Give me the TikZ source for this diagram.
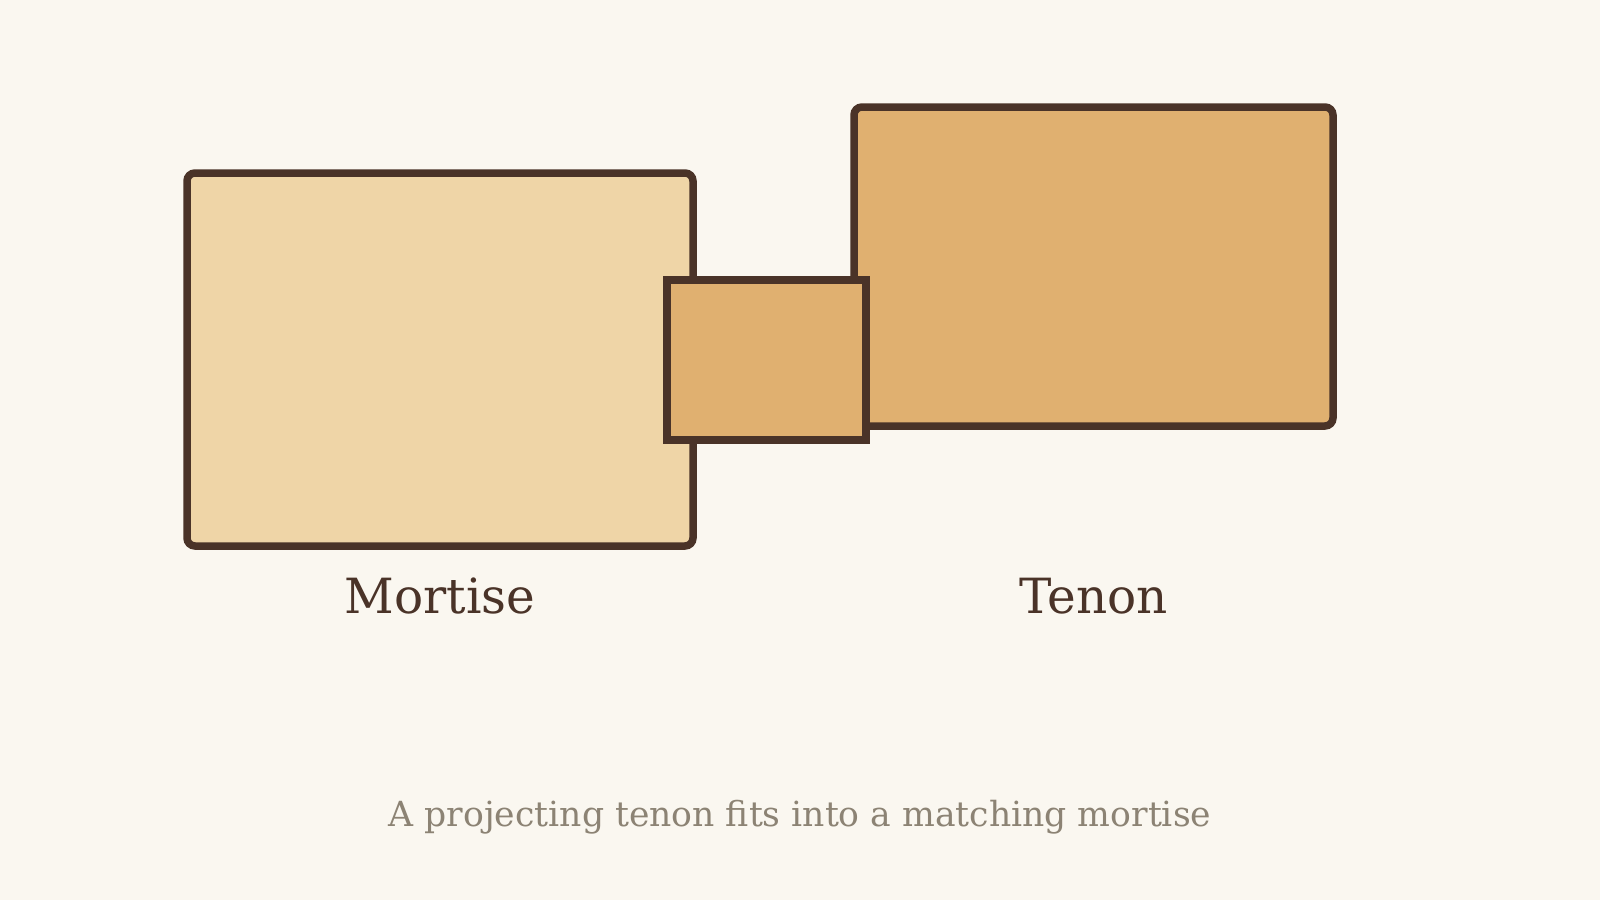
\documentclass[tikz,border=0pt]{standalone}
\usepackage{fontspec}
\setmainfont{DejaVu Serif}
\usepackage{tikz}
\usetikzlibrary{positioning}

\definecolor{paper}{HTML}{FAF7F0}
\definecolor{wood}{HTML}{4A3328}
\definecolor{lightwood}{HTML}{EFD5A7}
\definecolor{darkwood}{HTML}{E0B070}
\definecolor{capgray}{HTML}{8C8374}

\tikzset{
  joint/.style = {draw=wood, line width=7.5pt, inner sep=0pt},
  label/.style = {text=wood, font=\fontsize{48.5}{54}\selectfont, anchor=base},
}

\begin{document}
\begin{tikzpicture}[x=1pt, y=-1pt]
\fill[paper] (0,0) rectangle (1600,900);
\useasboundingbox (0,0) rectangle (1600,900);

% the two pieces
\node[joint, fill=lightwood, rounded corners=8pt, minimum width=506pt, minimum height=373pt] (mortise) at (440,359.5) {};
\node[joint, fill=darkwood, rounded corners=8pt, minimum width=479pt, minimum height=319pt] (tenon) at (1093.5,266.5) {};
\node[joint, fill=darkwood, minimum width=199pt, minimum height=160pt] (tongue) at (766.5,360) {};

\node[label] (mortisename) at (440,613) {Mortise};
\node[label] (tenonname) at (1093.5,613) {Tenon};

\node[text=capgray, font=\fontsize{34.6}{40}\selectfont, anchor=base] (caption) at (800,826) {A projecting tenon fits into a matching mortise};

\end{tikzpicture}
\end{document}
